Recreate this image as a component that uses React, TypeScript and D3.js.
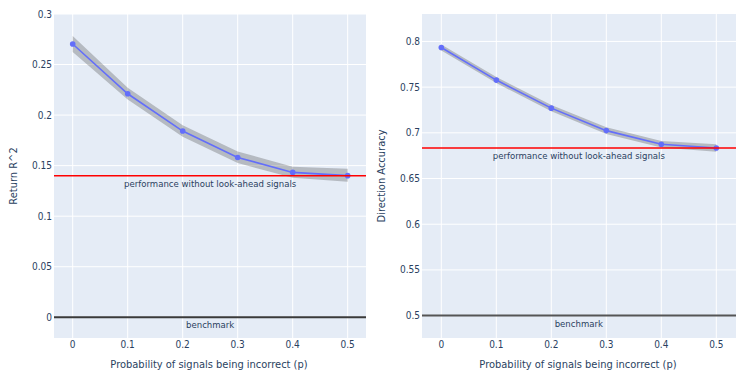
import React from "react";
import * as d3 from "d3";

const pValues = [0, 0.1, 0.2, 0.3, 0.4, 0.5];
const r2Mean = [0.2703, 0.2211, 0.1842, 0.1581, 0.1433, 0.1401];
const r2Lower = [0.2625, 0.2155, 0.1785, 0.1525, 0.1380, 0.1340];
const r2Upper = [0.2782, 0.2270, 0.1900, 0.1640, 0.1490, 0.1470];
const accMean = [0.7934, 0.7577, 0.7270, 0.7024, 0.6875, 0.6834];
const accLower = [0.7902, 0.7544, 0.7235, 0.6988, 0.6839, 0.6792];
const accUpper = [0.7966, 0.7610, 0.7305, 0.7060, 0.6911, 0.6876];
const r2Baseline = 0.14;
const accBaseline = 0.6834;
const r2Benchmark = 0;
const accBenchmark = 0.5;
const xTicks = [0, 0.1, 0.2, 0.3, 0.4, 0.5];
const r2Ticks = [0, 0.05, 0.1, 0.15, 0.2, 0.25, 0.3];
const accTicks = [0.5, 0.55, 0.6, 0.65, 0.7, 0.75, 0.8];
const xTitle = "Probability of signals being incorrect (p)";
const baselineLabel = "performance without look-ahead signals";
const benchmarkLabel = "benchmark";

const FONT = "'DejaVu Sans Condensed', 'DejaVu Sans', sans-serif";
const TXT = "#2a3f5f";

type PanelProps = {
  x0: number; x1: number; y0: number; y1: number;
  xDom: [number, number]; yDom: [number, number];
  mean: number[]; lower: number[]; upper: number[];
  yTicks: number[]; baseline: number; bench: number; benchColor: string;
  yTitle: string; titleX: number;
};

function Panel(p: PanelProps) {
  const x = d3.scaleLinear().domain(p.xDom).range([p.x0, p.x1]);
  const y = d3.scaleLinear().domain(p.yDom).range([p.y1, p.y0]);
  const pts = pValues.map((v, i) => ({ p: v, m: p.mean[i], lo: p.lower[i], hi: p.upper[i] }));
  const area = d3.area<any>().x((d) => x(d.p)).y0((d) => y(d.lo)).y1((d) => y(d.hi))(pts) || "";
  const line = d3.line<any>().x((d) => x(d.p)).y((d) => y(d.m))(pts) || "";
  const fmt = (v: number) => String(+v.toFixed(2));
  const cx = x(0.25);
  return (
    <g>
      <rect x={p.x0} y={p.y0} width={p.x1 - p.x0} height={p.y1 - p.y0} fill="#e5ecf6" />
      {xTicks.map((t) => (
        <line key={"gx" + t} x1={x(t)} x2={x(t)} y1={p.y0} y2={p.y1} stroke="#fff" strokeWidth={1} />
      ))}
      {p.yTicks.map((t) => (
        <line key={"gy" + t} x1={p.x0} x2={p.x1} y1={y(t)} y2={y(t)} stroke="#fff" strokeWidth={1} />
      ))}
      <path d={area} fill="rgba(68,68,68,0.3)" stroke="none" />
      <path d={line} fill="none" stroke="#636efa" strokeWidth={1.6} />
      {pts.map((d) => (
        <circle key={"c" + d.p} cx={x(d.p)} cy={y(d.m)} r={2.8} fill="#636efa" />
      ))}
      <line x1={p.x0} x2={p.x1} y1={y(p.baseline)} y2={y(p.baseline)} stroke="#ff0000" strokeWidth={1.4} />
      <line x1={p.x0} x2={p.x1} y1={y(p.bench)} y2={y(p.bench)} stroke={p.benchColor} strokeWidth={2} />
      <text x={cx} y={y(p.baseline) + 11} textAnchor="middle" fontSize={9.5} fill={TXT} fontFamily={FONT}>{baselineLabel}</text>
      <text x={cx} y={y(p.bench) + 11} textAnchor="middle" fontSize={9.5} fill={TXT} fontFamily={FONT}>{benchmarkLabel}</text>
      {p.yTicks.map((t) => (
        <text key={"ty" + t} x={p.x0 - 2} y={y(t) + 3.5} textAnchor="end" fontSize={10} fill={TXT} fontFamily={FONT}>{fmt(t)}</text>
      ))}
      {xTicks.map((t) => (
        <text key={"tx" + t} x={x(t)} y={p.y1 + 10} textAnchor="middle" fontSize={10} fill={TXT} fontFamily={FONT}>{fmt(t)}</text>
      ))}
      <text x={(p.x0 + p.x1) / 2 - 1} y={p.y1 + 30} textAnchor="middle" fontSize={11} fill={TXT} fontFamily={FONT}>{xTitle}</text>
      <text transform={`translate(${p.titleX},${(p.y0 + p.y1) / 2}) rotate(-90)`} textAnchor="middle" fontSize={11} fill={TXT} fontFamily={FONT}>{p.yTitle}</text>
    </g>
  );
}

export default function App() {
  return (
    <svg width={738} height={378} style={{ position: "absolute", left: 0, top: 0, background: "#fff" }}>
      <Panel x0={54} x1={366} y0={14} y1={338} xDom={[-0.034, 0.5333]} yDom={[-0.0205, 0.3]}
        mean={r2Mean} lower={r2Lower} upper={r2Upper} yTicks={r2Ticks}
        baseline={r2Baseline} bench={r2Benchmark} benchColor="#3a3a3a" yTitle="Return R^2" titleX={17} />
      <Panel x0={422} x1={736} y0={14} y1={338} xDom={[-0.0351, 0.5358]} yDom={[0.4755, 0.83]}
        mean={accMean} lower={accLower} upper={accUpper} yTicks={accTicks}
        baseline={accBaseline} bench={accBenchmark} benchColor="#555" yTitle="Direction Accuracy" titleX={385} />
    </svg>
  );
}
